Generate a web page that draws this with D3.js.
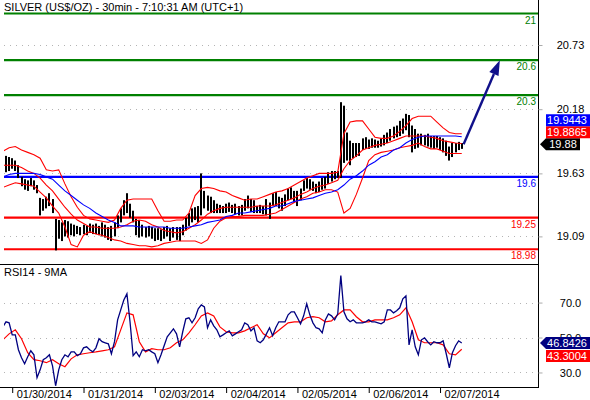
<!DOCTYPE html>
<html>
<head>
<meta charset="utf-8">
<script src="https://cdn.jsdelivr.net/npm/d3@7"></script>
<style>
body { margin: 0; background: #fff; }
svg { display: block; font-family: Arial, "Liberation Sans", sans-serif; }
</style>
</head>
<body>
<div id="chart"></div>
<script>
// ---- data ----
const title = "SILVER (US$/OZ) - 30min - 7:10:31 AM (UTC+1)";
const rsiTitle = "RSI14 - 9MA";

const dayLabels = ["01/30/2014", "01/31/2014", "02/03/2014", "02/04/2014", "02/05/2014", "02/06/2014", "02/07/2014"];
const dayStart = [0, 23, 46, 69, 92, 115, 138];   // bar index where each day opens

// price bars, bar index -2 .. 145
const firstBar = -2;
const barHigh = [
  19.78, 19.77, 19.76, 19.74, 19.70, 19.60, 19.58, 19.57, 19.59, 19.57,
  19.53, 19.42, 19.41, 19.43, 19.46, 19.41, 19.24, 19.23, 19.21, 19.23,
  19.22, 19.20, 19.19, 19.18, 19.17, 19.19, 19.18, 19.20, 19.19, 19.20,
  19.18, 19.21, 19.19, 19.17, 19.18, 19.21, 19.27, 19.33, 19.40, 19.46,
  19.37, 19.31, 19.24, 19.23, 19.19, 19.17, 19.18, 19.17, 19.16, 19.16,
  19.15, 19.17, 19.18, 19.16, 19.17, 19.17, 19.17, 19.19, 19.25, 19.29,
  19.33, 19.34, 19.35, 19.63, 19.48, 19.44, 19.43, 19.40, 19.37, 19.36,
  19.35, 19.37, 19.38, 19.36, 19.37, 19.35, 19.36, 19.41, 19.44, 19.41,
  19.40, 19.35, 19.36, 19.35, 19.41, 19.38, 19.46, 19.47, 19.43, 19.42,
  19.45, 19.50, 19.51, 19.48, 19.48, 19.50, 19.57, 19.59, 19.58, 19.56,
  19.54, 19.56, 19.59, 19.60, 19.64, 19.65, 19.65, 19.65, 20.24, 20.21,
  19.98, 19.91, 19.89, 19.89, 19.89, 19.93, 19.94, 19.92, 19.93, 19.92,
  19.91, 19.93, 19.96, 19.98, 20.01, 20.03, 20.04, 20.08, 20.10, 20.14,
  20.13, 20.04, 20.01, 19.97, 19.97, 19.96, 19.97, 19.95, 19.95, 19.95,
  19.94, 19.93, 19.91, 19.86, 19.89, 19.89, 19.90, 19.89
];
const barLow = [
  19.64, 19.65, 19.67, 19.65, 19.59, 19.52, 19.49, 19.48, 19.52, 19.49,
  19.46, 19.27, 19.31, 19.33, 19.35, 19.29, 18.97, 19.07, 19.05, 19.09,
  19.08, 19.10, 19.09, 19.11, 19.10, 19.11, 19.10, 19.12, 19.11, 19.11,
  19.10, 19.09, 19.08, 19.06, 19.05, 19.09, 19.16, 19.21, 19.27, 19.29,
  19.25, 19.21, 19.10, 19.08, 19.09, 19.08, 19.09, 19.07, 19.05, 19.06,
  19.05, 19.07, 19.09, 19.05, 19.08, 19.06, 19.05, 19.10, 19.14, 19.18,
  19.21, 19.23, 19.21, 19.27, 19.33, 19.31, 19.29, 19.29, 19.29, 19.29,
  19.29, 19.29, 19.30, 19.29, 19.28, 19.27, 19.27, 19.31, 19.33, 19.30,
  19.29, 19.29, 19.29, 19.28, 19.27, 19.24, 19.35, 19.35, 19.33, 19.31,
  19.35, 19.40, 19.41, 19.38, 19.35, 19.40, 19.48, 19.50, 19.49, 19.48,
  19.46, 19.47, 19.49, 19.50, 19.54, 19.56, 19.58, 19.59, 19.59, 19.72,
  19.74, 19.70, 19.76, 19.77, 19.78, 19.83, 19.84, 19.84, 19.85, 19.85,
  19.85, 19.86, 19.87, 19.89, 19.91, 19.93, 19.94, 19.95, 19.97, 20.00,
  19.94, 19.81, 19.84, 19.85, 19.87, 19.87, 19.86, 19.85, 19.84, 19.85,
  19.83, 19.81, 19.78, 19.74, 19.77, 19.81, 19.83, 19.84
];

// indicator lines, one value every 2 bars starting at bar -3
const lineFirst = -3, lineStep = 2;
const bbUpper = [
  19.82, 19.85, 19.86, 19.83, 19.81, 19.79, 19.76, 19.66, 19.65, 19.66,
  19.54, 19.43, 19.34, 19.27, 19.24, 19.23, 19.22, 19.21, 19.23, 19.33,
  19.40, 19.41, 19.41, 19.41, 19.41, 19.31, 19.22, 19.22, 19.23, 19.23,
  19.29, 19.44, 19.50, 19.51, 19.50, 19.48, 19.47, 19.44, 19.42, 19.40,
  19.41, 19.41, 19.43, 19.45, 19.47, 19.48, 19.50, 19.53, 19.56, 19.59,
  19.61, 19.63, 19.63, 19.63, 19.64, 19.97, 20.07, 20.08, 20.08, 20.01,
  19.94, 19.93, 19.93, 19.95, 19.99, 20.04, 20.10, 20.12, 20.12, 20.12,
  20.07, 20.02, 19.98, 19.97, 19.97
];
const bbMiddle = [
  19.70, 19.70, 19.70, 19.68, 19.65, 19.63, 19.59, 19.53, 19.48, 19.41,
  19.34, 19.28, 19.23, 19.20, 19.17, 19.17, 19.16, 19.16, 19.16, 19.17,
  19.19, 19.22, 19.23, 19.22, 19.19, 19.17, 19.14, 19.13, 19.12, 19.13,
  19.16, 19.19, 19.23, 19.28, 19.31, 19.33, 19.34, 19.34, 19.34, 19.34,
  19.34, 19.35, 19.35, 19.35, 19.36, 19.38, 19.40, 19.42, 19.45, 19.47,
  19.50, 19.52, 19.53, 19.55, 19.57, 19.67, 19.74, 19.78, 19.83, 19.85,
  19.87, 19.88, 19.89, 19.91, 19.93, 19.95, 19.95, 19.95, 19.95, 19.94,
  19.93, 19.91, 19.90, 19.89, 19.8865
];
const bbLower = [
  19.51, 19.53, 19.55, 19.54, 19.53, 19.52, 19.47, 19.42, 19.35, 19.29,
  19.17, 19.02, 19.00, 19.10, 19.13, 19.11, 19.10, 19.08, 19.06, 19.05,
  19.03, 19.02, 19.01, 19.01, 19.00, 19.01, 19.03, 19.04, 19.05, 19.05,
  19.05, 19.05, 19.03, 19.06, 19.16, 19.22, 19.25, 19.26, 19.26, 19.27,
  19.27, 19.27, 19.27, 19.28, 19.29, 19.32, 19.35, 19.38, 19.41, 19.43,
  19.46, 19.47, 19.49, 19.49, 19.47, 19.29, 19.33, 19.45, 19.59, 19.74,
  19.79, 19.81, 19.82, 19.83, 19.85, 19.86, 19.87, 19.89, 19.86, 19.84,
  19.84, 19.82, 19.80, 19.80, 19.80
];
const maBlue = [
  19.60, 19.62, 19.63, 19.63, 19.63, 19.63, 19.62, 19.60, 19.58, 19.53,
  19.48, 19.44, 19.40, 19.36, 19.33, 19.29, 19.26, 19.23, 19.21, 19.18,
  19.18, 19.18, 19.17, 19.17, 19.17, 19.17, 19.17, 19.16, 19.16, 19.16,
  19.17, 19.18, 19.19, 19.21, 19.22, 19.23, 19.26, 19.27, 19.29, 19.29,
  19.30, 19.31, 19.32, 19.33, 19.35, 19.35, 19.37, 19.39, 19.40, 19.41,
  19.42, 19.44, 19.46, 19.47, 19.49, 19.53, 19.58, 19.61, 19.65, 19.70,
  19.73, 19.77, 19.79, 19.83, 19.85, 19.89, 19.92, 19.94, 19.95, 19.95,
  19.95, 19.95, 19.95, 19.95, 19.9443
];

// RSI14, every bar from bar -3
const rsiFirst = -3;
const rsi = [
  56.1, 59.0, 58.4, 51.5, 51.5, 43.0, 38.4, 35.0, 39.0, 42.4,
  40.1, 27.0, 31.5, 37.3, 38.4, 40.1, 33.8, 22.4, 31.5, 37.3,
  40.1, 39.0, 41.8, 41.8, 39.6, 40.7, 44.1, 44.7, 43.0, 41.8,
  44.1, 49.3, 47.6, 47.0, 46.4, 40.7, 47.6, 60.1, 65.8, 71.5,
  75.0, 59.0, 39.6, 41.8, 39.0, 43.0, 42.4, 43.0, 41.8, 40.7,
  35.6, 40.1, 45.3, 50.4, 52.7, 55.0, 52.1, 44.7, 53.3, 60.7,
  61.3, 58.4, 61.3, 66.4, 68.7, 67.5, 55.6, 60.1, 56.7, 54.4,
  50.4, 51.5, 52.7, 53.8, 51.0, 52.1, 53.3, 54.4, 58.4, 57.3,
  53.8, 55.6, 48.1, 47.0, 48.7, 52.1, 55.6, 51.0, 55.6, 59.0,
  59.0, 59.0, 63.0, 64.7, 64.7, 61.3, 57.8, 62.4, 69.3, 63.0,
  58.4, 55.6, 55.0, 52.7, 60.1, 63.5, 62.4, 60.1, 63.5, 85.5,
  64.7, 60.7, 59.0, 60.1, 58.4, 58.4, 58.4, 59.0, 60.1, 59.0,
  59.0, 58.4, 57.8, 59.0, 65.8, 65.8, 64.1, 65.3, 67.0, 72.1,
  73.8, 45.8, 54.4, 44.7, 40.1, 48.7, 49.8, 47.6, 45.8, 47.6,
  47.0, 47.0, 48.1, 40.7, 32.7, 41.3, 45.3, 48.1, 46.8426
];
// 9MA of the RSI, every 2 bars from bar -3
const rsiMa = [
  48.7, 52.1, 54.4, 49.3, 41.3, 37.3, 36.7, 35.6, 37.3, 35.0,
  33.3, 37.8, 40.1, 40.7, 41.3, 41.8, 42.4, 43.0, 44.7, 54.4,
  64.1, 63.0, 47.6, 41.8, 43.6, 43.0, 43.0, 44.1, 47.0, 48.7,
  52.7, 57.3, 62.4, 64.1, 62.4, 56.1, 53.3, 52.7, 52.7, 53.8,
  55.6, 57.3, 52.1, 49.8, 52.7, 55.6, 58.4, 59.0, 59.0, 61.3,
  61.9, 61.3, 59.0, 59.5, 63.0, 65.8, 65.8, 61.9, 59.0, 59.0,
  60.1, 60.1, 60.1, 61.3, 63.0, 67.0, 59.0, 48.7, 47.0, 47.0,
  47.0, 45.8, 40.7, 40.1, 43.3004
];

// horizontal levels
const levelValues = [21, 20.6, 20.3, 19.6, 19.25, 18.98];
const levelLabels = ["21", "20.6", "20.3", "19.6", "19.25", "18.98"];
const levelKinds  = ["target", "target", "target", "pivot", "support", "support"];

const priceTicks = [20.73, 20.18, 19.63, 19.09];
const rsiTicks = [70, 50, 30];

const lastClose = 19.88, lastMa = 19.9443, lastMid = 19.8865;
const lastRsi = 46.8426, lastRsiMa = 43.3004;
const arrowFrom = [145.6, 19.88], arrowTo = [157.3, 20.6];   // [bar, price]

// ---- drawing ----
const W = 590, H = 400;
const L = 4, R = 538;
const levelColor = { target: "#008000", pivot: "#0000ff", support: "#ff0000" };

const svg = d3.select("#chart").append("svg").attr("width", W).attr("height", H);
svg.append("rect").attr("width", W).attr("height", H).attr("fill", "#fff");

const x = d3.scaleLinear().domain([-2.65, 169.6]).range([L, R]);
const y = d3.scaleLinear().domain([18.862, 21]).range([263, 13.5]);
const yR = d3.scaleLinear().domain([21.4, 91.5]).range([387.5, 265]);

const defs = svg.append("defs");
defs.append("clipPath").attr("id", "clipMain")
  .append("rect").attr("x", L).attr("y", 12).attr("width", R - L).attr("height", 252);
defs.append("clipPath").attr("id", "clipRsi")
  .append("rect").attr("x", L).attr("y", 265).attr("width", R - L).attr("height", 122);

// dotted grids
svg.append("g").selectAll("line").data(priceTicks).join("line")
  .attr("x1", L).attr("x2", R)
  .attr("y1", d => Math.round(y(d)) + 0.5).attr("y2", d => Math.round(y(d)) + 0.5)
  .attr("stroke", "#b4b4b4").attr("stroke-dasharray", "1,5");
svg.append("g").selectAll("line").data(rsiTicks).join("line")
  .attr("x1", L).attr("x2", R)
  .attr("y1", d => Math.round(yR(d)) + 0.5).attr("y2", d => Math.round(yR(d)) + 0.5)
  .attr("stroke", "#b4b4b4").attr("stroke-dasharray", "1,5");

// level lines and their labels
const lv = svg.append("g");
lv.selectAll("line").data(levelValues).join("line")
  .attr("x1", L).attr("x2", R)
  .attr("y1", d => y(d)).attr("y2", d => y(d))
  .attr("stroke", (d, i) => levelColor[levelKinds[i]])
  .attr("stroke-width", 2.2);
lv.selectAll("text").data(levelValues).join("text")
  .attr("x", 536).attr("y", d => y(d) + 10)
  .attr("text-anchor", "end").attr("font-size", 10)
  .attr("fill", (d, i) => levelColor[levelKinds[i]])
  .text((d, i) => levelLabels[i]);

// price bars
const bars = svg.append("g").attr("clip-path", "url(#clipMain)");
bars.selectAll("rect").data(barHigh).join("rect")
  .attr("x", (d, i) => Math.round(x(firstBar + i)) - 1)
  .attr("width", 2)
  .attr("y", d => y(d))
  .attr("height", (d, i) => y(barLow[i]) - y(d))
  .attr("fill", "#000");

// indicator lines on price
const lineGen = (scale, first, step) => d3.line()
  .x((d, i) => x(first + i * step))
  .y(d => scale(d));
const ind = svg.append("g").attr("clip-path", "url(#clipMain)");
[[bbUpper, "#ff0000"], [bbMiddle, "#ff0000"], [bbLower, "#ff0000"], [maBlue, "#0000ff"]]
  .forEach(([arr, col]) => {
    ind.append("path").datum(arr)
      .attr("d", lineGen(y, lineFirst, lineStep))
      .attr("fill", "none").attr("stroke", col).attr("stroke-width", 1.1);
  });

// forecast arrow
{
  const x1 = x(arrowFrom[0]), y1 = y(arrowFrom[1]);
  const x2 = x(arrowTo[0]), y2 = y(arrowTo[1]);
  const len = Math.hypot(x2 - x1, y2 - y1);
  const ux = (x2 - x1) / len, uy = (y2 - y1) / len;
  const bx = x2 - 15 * ux, by = y2 - 15 * uy;
  svg.append("line").attr("x1", x1).attr("y1", y1).attr("x2", bx).attr("y2", by)
    .attr("stroke", "#10108a").attr("stroke-width", 2.4);
  svg.append("path")
    .attr("d", `M${x2},${y2}L${bx - 5 * uy},${by + 5 * ux}L${bx + 5 * uy},${by - 5 * ux}Z`)
    .attr("fill", "#10108a");
}

// RSI lines
const rs = svg.append("g").attr("clip-path", "url(#clipRsi)");
rs.append("path").datum(rsiMa)
  .attr("d", lineGen(yR, lineFirst, lineStep))
  .attr("fill", "none").attr("stroke", "#ff0000").attr("stroke-width", 1.2);
rs.append("path").datum(rsi)
  .attr("d", lineGen(yR, rsiFirst, 1))
  .attr("fill", "none").attr("stroke", "#000080").attr("stroke-width", 1.3);

// frame
const frame = svg.append("g").attr("stroke", "#000").attr("shape-rendering", "crispEdges");
frame.append("line").attr("x1", 0).attr("x2", R).attr("y1", 264.5).attr("y2", 264.5);
frame.append("line").attr("x1", 0).attr("x2", R).attr("y1", 387.5).attr("y2", 387.5);
frame.append("line").attr("x1", R + 0.5).attr("x2", R + 0.5).attr("y1", 0).attr("y2", 388);

// right axes
function styleAxis(g) {
  g.select(".domain").remove();
  g.selectAll(".tick line").attr("stroke", "#aaa");
  g.selectAll(".tick text").attr("x", 32).attr("text-anchor", "middle")
    .attr("font-size", 11).attr("font-family", "Arial, 'Liberation Sans', sans-serif").attr("fill", "#000");
}
svg.append("g").attr("transform", `translate(${R + 0.5},0)`)
  .call(d3.axisRight(y).tickValues(priceTicks).tickSize(4).tickFormat(d3.format(".2f")))
  .call(styleAxis);
svg.append("g").attr("transform", `translate(${R + 0.5},0)`)
  .call(d3.axisRight(yR).tickValues(rsiTicks).tickSize(4).tickFormat(d3.format(".1f")))
  .call(styleAxis);

// bottom axis with day labels
const xa = svg.append("g").attr("transform", "translate(0,388)")
  .call(d3.axisBottom(x).tickValues(dayStart).tickSize(5).tickFormat((d, i) => dayLabels[i]));
xa.select(".domain").remove();
xa.selectAll(".tick line").attr("stroke", "#000");
xa.selectAll(".tick text").attr("x", 4).attr("y", 10).attr("dy", null)
  .attr("text-anchor", "start").attr("font-size", 11)
  .attr("font-family", "Arial, 'Liberation Sans', sans-serif").attr("fill", "#000");

// value tags on the right
function tag(value, fmt, fill, cy, arrow, right) {
  const g = svg.append("g");
  const top = cy - 6, bot = cy + 6;
  const p = arrow
    ? `M540,${cy}L546,${top}L${right},${top}L${right},${bot}L546,${bot}Z`
    : `M546,${top}L${right},${top}L${right},${bot}L546,${bot}Z`;
  g.append("path").attr("d", p).attr("fill", fill);
  g.append("text").attr("x", (546 + right) / 2 + (right > 585 ? -2 : 0)).attr("y", cy + 4)
    .attr("text-anchor", "middle").attr("font-size", 11).attr("fill", "#fff")
    .text(d3.format(fmt)(value));
}
const cClose = y(lastClose);
tag(lastClose, ".2f", "#000", cClose, true, 580);
tag(lastMid, ".4f", "#ff0000", cClose - 12, false, 592);
tag(lastMa, ".4f", "#0000ff", cClose - 24, false, 592);
const cRsi = yR(lastRsi);
tag(lastRsi, ".4f", "#000080", cRsi, true, 592);
tag(lastRsiMa, ".4f", "#ff0000", cRsi + 13, false, 592);

// titles
svg.append("text").attr("x", 4).attr("y", 10.5).attr("font-size", 11).text(title);
svg.append("text").attr("x", 4).attr("y", 276).attr("font-size", 11).text(rsiTitle);
</script>
</body>
</html>
